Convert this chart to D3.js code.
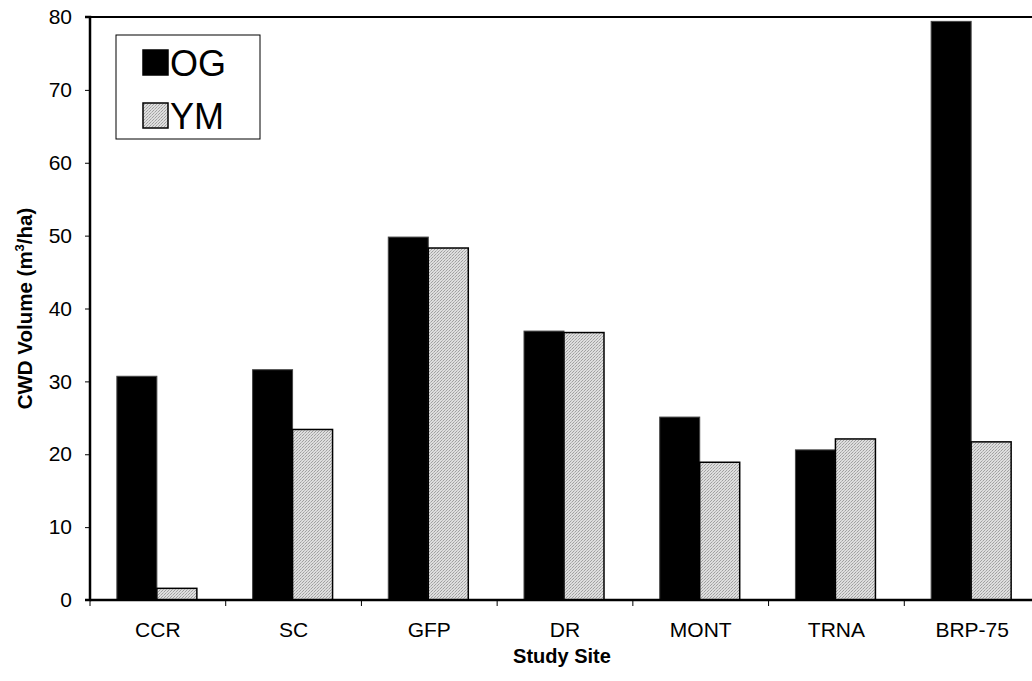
<!DOCTYPE html>
<html><head><meta charset="utf-8">
<script src="https://cdn.jsdelivr.net/npm/d3@7"></script>
<style>body{margin:0;background:#fff;overflow:hidden}svg{display:block;font-family:"Liberation Sans",Arial,sans-serif}</style>
</head><body><svg id="c" width="1032" height="681"></svg>
<script>
const categories = ["CCR","SC","GFP","DR","MONT","TRNA","BRP-75"];
const seriesNames = ["OG","YM"];
const ogValues = [30.7,31.6,49.8,36.9,25.1,20.6,79.4];
const ymValues = [1.6,23.4,48.3,36.7,18.9,22.1,21.7];
const yTicks = [0,10,20,30,40,50,60,70,80];

const svg = d3.select("#c");
const m = {left:90, top:17, right:-8, bottom:81};
const W = 1032, H = 681;
const x0 = d3.scaleBand().domain(categories).range([m.left, W - m.right]).paddingInner(0).paddingOuter(0);
const y = d3.scaleLinear().domain([0,80]).range([H - m.bottom, m.top]);

const defs = svg.append("defs");
const pat = defs.append("pattern").attr("id","hatch").attr("width",3).attr("height",3)
  .attr("patternUnits","userSpaceOnUse");
pat.append("rect").attr("width",3).attr("height",3).attr("fill","#dedede");
pat.append("rect").attr("x",0).attr("y",2).attr("width",1).attr("height",1).attr("fill","#a0a0a0");
pat.append("rect").attr("x",1).attr("y",1).attr("width",1).attr("height",1).attr("fill","#b8b8b8");
pat.append("rect").attr("x",2).attr("y",0).attr("width",1).attr("height",1).attr("fill","#a0a0a0");

const bw = 40;
const data = categories.map((c,i)=>({c, og: ogValues[i], ym: ymValues[i]}));
const g = svg.append("g");
data.forEach(d=>{
  const cx = x0(d.c) + x0.bandwidth()/2;
  g.append("rect").attr("x", cx - bw - 1).attr("y", y(d.og)).attr("width", bw).attr("height", y(0)-y(d.og))
    .attr("fill","#000").attr("stroke","#444").attr("stroke-width",1);
  g.append("rect").attr("x", cx - 1).attr("y", y(d.ym)).attr("width", bw).attr("height", y(0)-y(d.ym))
    .attr("fill","url(#hatch)").attr("stroke","#000").attr("stroke-width",1.5);
});

// frame
svg.append("line").attr("x1",m.left).attr("x2",W).attr("y1",m.top).attr("y2",m.top).attr("stroke","#000").attr("stroke-width",2);

const FONT = "Liberation Sans, Arial, sans-serif";
// y axis
const yAxis = d3.axisLeft(y).tickValues(yTicks).tickSize(5).tickPadding(13).tickFormat(d3.format("d"));
const ya = svg.append("g").attr("transform",`translate(${m.left},0)`).call(yAxis);
ya.select(".domain").attr("stroke","#000").attr("stroke-width",2.5).attr("d",`M-5,${m.top}H0V${y(0)}H-5`);
ya.selectAll(".tick line").attr("stroke","#000").attr("stroke-width",1);
ya.selectAll("text").attr("font-size",21).attr("fill","#000").attr("font-family",FONT);

// x axis
const xAxis = d3.axisBottom(x0).tickSize(0).tickPadding(22);
const xa = svg.append("g").attr("transform",`translate(0,${y(0)})`).call(xAxis);
xa.select(".domain").attr("stroke","#000").attr("stroke-width",2.5).attr("d",`M${m.left},0H${W}`);
xa.selectAll("text").attr("font-size",21).attr("fill","#000").attr("font-family",FONT);
// boundary ticks
const bounds = categories.map(c=>x0(c));
xa.selectAll(".btick").data(bounds).enter().append("line").attr("class","btick")
  .attr("x1",d=>d).attr("x2",d=>d).attr("y1",0).attr("y2",6).attr("stroke","#000").attr("stroke-width",1);

// titles
svg.append("text").attr("x",562).attr("y",663).attr("text-anchor","middle").attr("font-size",20).attr("font-weight","bold").attr("font-family",FONT).text("Study Site");
const yt = svg.append("text").attr("transform",`translate(32,${(m.top+y(0))/2}) rotate(-90)`).attr("text-anchor","middle")
  .attr("font-size",20.5).attr("font-weight","bold").attr("font-family",FONT);
yt.append("tspan").text("CWD Volume (m");
yt.append("tspan").attr("font-size",13).attr("dy",-8).text("3");
yt.append("tspan").attr("dy",8).text("/ha)");

// legend
const lg = svg.append("g");
lg.append("rect").attr("x",116).attr("y",35).attr("width",144).attr("height",104).attr("fill","#fff").attr("stroke","#000").attr("stroke-width",1);
const fills = ["#000","url(#hatch)"];
seriesNames.forEach((s,i)=>{
  const yy = 50 + i*53;
  lg.append("rect").attr("x",143).attr("y",yy).attr("width",25).attr("height",25).attr("fill",fills[i]).attr("stroke","#000").attr("stroke-width",1.5);
  lg.append("text").attr("x",170).attr("y",yy+26).attr("font-size",36).attr("fill","#000").attr("font-family",FONT).text(s);
});
</script></body></html>
